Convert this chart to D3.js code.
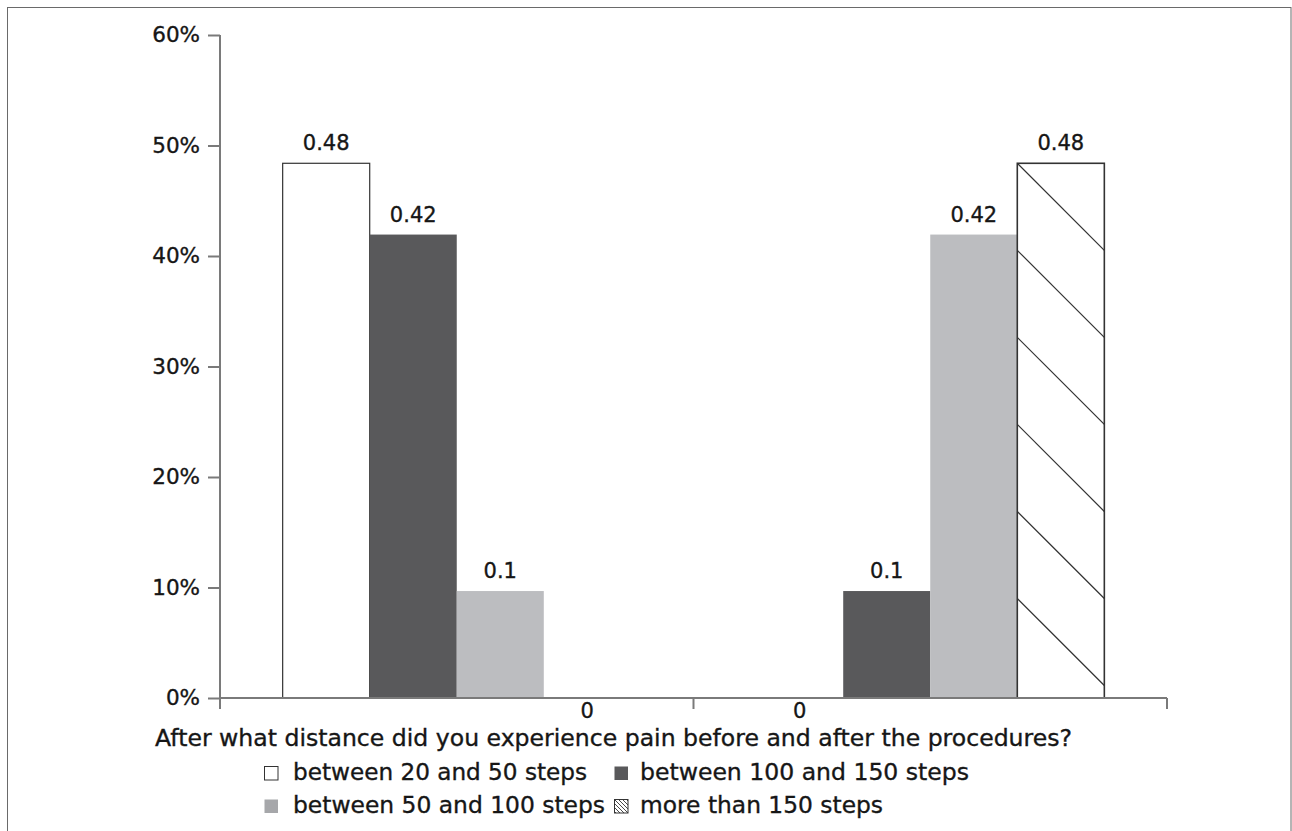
<!DOCTYPE html>
<html>
<head>
<meta charset="utf-8">
<script src="https://cdn.jsdelivr.net/npm/d3@7/dist/d3.min.js"></script>
<style>
  html, body { margin: 0; padding: 0; background: #fff; }
  svg { display: block; }
  text { font-family: "DejaVu Sans", Verdana, sans-serif; fill: #161616; stroke: #161616; stroke-width: 0.35px; }
</style>
</head>
<body>
<svg id="chart" width="1292" height="831"></svg>
<script>
// Survey: distance walked before pain, before vs. after the procedures
const categories = ["before", "after"];
const seriesNames = [
  "between 20 and 50 steps",
  "between 100 and 150 steps",
  "between 50 and 100 steps",
  "more than 150 steps"
];
const beforeValues = [0.4839, 0.4194, 0.0968, 0];
const afterValues  = [0, 0.0968, 0.4194, 0.4839];
const yTicks = [0, 0.1, 0.2, 0.3, 0.4, 0.5, 0.6];
const titleText = "After what distance did you experience pain before and after the procedures?";

const valuesByCategory = { before: beforeValues, after: afterValues };

// styling
const fills   = ["#ffffff", "#59595b", "#bcbdc0", "#ffffff"];
const swatchFills = ["#ffffff", "#59595b", "#a6a7aa", "url(#hatchSmall)"];
const strokes = ["#333333", "none", "none", "#333333"];
const axisColor = "#7a7a7a";

const svg = d3.select("#chart");
const W = 1292, H = 831;

// outer frame
svg.append("rect")
  .attr("x", 7.5).attr("y", 7.5)
  .attr("width", W - 8.5).attr("height", H + 20)
  .attr("fill", "none").attr("stroke", "#6a6a6a").attr("stroke-width", 1);

const plot = { left: 220, right: 1167, top: 35, bottom: 698 };

const y = d3.scaleLinear().domain([0, 0.6]).range([plot.bottom, plot.top]);
const x0 = d3.scaleBand().domain(categories).range([plot.left, plot.right]).padding(0);
const x1 = d3.scaleBand().domain(d3.range(seriesNames.length))
  .range([0, x0.bandwidth()]).paddingInner(0).paddingOuter(0.72);

const defs = svg.append("defs");
const hp = defs.append("pattern")
  .attr("id", "hatchSmall").attr("patternUnits", "userSpaceOnUse")
  .attr("width", 4).attr("height", 4);
hp.append("rect").attr("width", 4).attr("height", 4).attr("fill", "#fff");
hp.append("path").attr("d", "M-1,-1 L5,5 M-1,3 L1,5 M3,-1 L5,1")
  .attr("stroke", "#333").attr("stroke-width", 0.9);

// bars
const labelFmt = d3.format(".2~f");
const groups = svg.append("g").selectAll("g")
  .data(categories).join("g")
  .attr("transform", d => `translate(${x0(d)},0)`);

const bars = groups.selectAll("g.bar")
  .data(c => valuesByCategory[c].map((v, i) => ({ v, i })))
  .join("g").attr("class", "bar");

bars.each(function (d) {
  const g = d3.select(this);
  const bx = x1(d.i), bw = x1.bandwidth();
  const top = y(d.v), bottom = y(0);
  if (d.v > 0) {
    g.append("rect")
      .attr("x", bx).attr("y", top)
      .attr("width", bw).attr("height", bottom - top)
      .attr("fill", fills[d.i])
      .attr("stroke", strokes[d.i])
      .attr("stroke-width", d.i === 3 ? 1.6 : 1.2);
    if (d.i === 3) {
      // diagonal hatching, one stroke per bar-width square
      for (let k = 0; top + (k + 1) * bw <= bottom; k++) {
        g.append("line")
          .attr("x1", bx).attr("y1", top + k * bw)
          .attr("x2", bx + bw).attr("y2", top + (k + 1) * bw)
          .attr("stroke", "#333").attr("stroke-width", 1.2);
      }
    }
  }
  g.append("text")
    .attr("x", bx + bw / 2)
    .attr("y", d.v > 0 ? top - 13 : bottom + 20)
    .attr("text-anchor", "middle")
    .attr("font-size", 21)
    .text(labelFmt(d.v));
});

// y axis
const yAxis = svg.append("g")
  .attr("transform", `translate(${plot.left},0)`)
  .call(d3.axisLeft(y).tickValues(yTicks).tickFormat(d3.format(".0%"))
    .tickSize(12).tickPadding(8));
yAxis.select(".domain").attr("stroke", axisColor).attr("stroke-width", 2)
  .attr("d", `M0,${plot.top}V${plot.bottom}`);
yAxis.selectAll(".tick line").attr("stroke", axisColor).attr("stroke-width", 2);
yAxis.selectAll(".tick text").attr("font-size", 21.5).attr("fill", "#161616")
  .attr("font-family", "DejaVu Sans, Verdana, sans-serif");

// x axis (category boundaries only)
const xAxis = svg.append("g")
  .attr("transform", `translate(0,${plot.bottom})`);
xAxis.append("line")
  .attr("x1", plot.left).attr("x2", plot.right)
  .attr("stroke", axisColor).attr("stroke-width", 2);
const bounds = categories.map(c => x0(c)).concat([x0(categories[categories.length - 1]) + x0.bandwidth()]);
xAxis.selectAll("line.tick").data(bounds).join("line")
  .attr("class", "tick")
  .attr("x1", d => d).attr("x2", d => d)
  .attr("y1", 0).attr("y2", 11)
  .attr("stroke", axisColor).attr("stroke-width", 2);

// axis title
svg.append("text")
  .attr("x", 155).attr("y", 746)
  .attr("font-size", 23)
  .attr("textLength", 917).attr("lengthAdjust", "spacingAndGlyphs")
  .text(titleText);

// legend: two rows, two columns
const legendPos = [
  { x: 264, y: 766, tw: 294 },
  { x: 614, y: 766, tw: 329 },
  { x: 264, y: 799, tw: 312 },
  { x: 614, y: 799, tw: 243 }
];
const legend = svg.append("g").selectAll("g")
  .data(seriesNames).join("g")
  .attr("transform", (d, i) => `translate(${legendPos[i].x},${legendPos[i].y})`);
legend.append("rect")
  .attr("x", 0.5).attr("y", 0.5).attr("width", 13.5).attr("height", 13.5)
  .attr("fill", (d, i) => swatchFills[i])
  .attr("stroke", (d, i) => (i === 0 || i === 3) ? "#333" : "none")
  .attr("stroke-width", 1);
legend.append("text")
  .attr("x", (d, i) => i % 2 === 0 ? 29 : 26)
  .attr("y", 14)
  .attr("font-size", 23)
  .attr("textLength", (d, i) => legendPos[i].tw)
  .attr("lengthAdjust", "spacingAndGlyphs")
  .text(d => d);
</script>
</body>
</html>
